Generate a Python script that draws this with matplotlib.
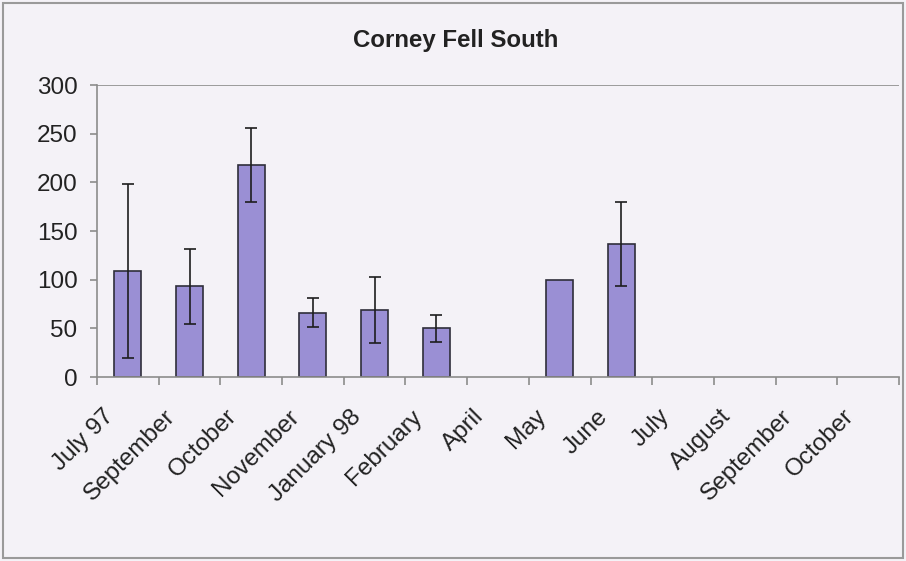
import matplotlib.pyplot as plt
import matplotlib.transforms as mtransforms
from matplotlib.patches import Rectangle
import numpy as np

plt.rcParams['font.family'] = ['Liberation Sans', 'DejaVu Sans']

# survey months and mean counts with error (NaN = no sample)
months = ['July 97', 'September', 'October', 'November', 'January 98', 'February',
          'April', 'May', 'June', 'July', 'August', 'September', 'October']
means = np.array([109, 93, 218, 66, 69, 50, np.nan, 100, 137,
                  np.nan, np.nan, np.nan, np.nan])
errors = np.array([89, 39, 38, 15, 34, 14, np.nan, np.nan, 43,
                   np.nan, np.nan, np.nan, np.nan])

bg = '#f4f2f7'
grey = '#8c8c8c'

fig = plt.figure(figsize=(9.06, 5.61), dpi=100, facecolor=bg)
ax = fig.add_axes([97 / 906, 1 - 377 / 561, 802 / 906, 292 / 561])
ax.set_facecolor('none')

x = np.arange(len(months))
ax.bar(x, means, width=0.44, color='#9a8fd4', edgecolor='#2e2e3a', linewidth=1.2, zorder=2)

has_err = np.isfinite(errors)
ax.errorbar(x[has_err], means[has_err], yerr=errors[has_err], fmt='none',
            ecolor='#1e1e1e', elinewidth=1.2, capsize=4, capthick=1.2, zorder=3)

ax.set_xlim(-0.5, len(months) - 0.5)
ax.set_ylim(0, 300)
ax.axhline(300, color=grey, linewidth=1.2, zorder=1)

for side in ['top', 'right']:
    ax.spines[side].set_visible(False)
for side in ['left', 'bottom']:
    ax.spines[side].set_color(grey)
    ax.spines[side].set_linewidth(1.2)

ax.set_yticks(range(0, 301, 50))
ax.tick_params(axis='y', length=5, width=1.2, color=grey, pad=9, labelsize=17.5, labelcolor='#222222')

ax.set_xticks(x)
ax.set_xticklabels(months, rotation=45, ha='right', rotation_mode='anchor')
ax.tick_params(axis='x', which='major', length=0, pad=20.5, labelsize=17.5, labelcolor='#222222')
ax.set_xticks(np.arange(-0.5, len(months), 1), minor=True)
ax.tick_params(axis='x', which='minor', length=6, width=1.2, color=grey)

offset = mtransforms.ScaledTranslation(-25 / 100, 0, fig.dpi_scale_trans)
for lab in ax.get_xticklabels():
    lab.set_transform(lab.get_transform() + offset)

fig.text(0.503, 1 - 41 / 561, 'Corney Fell South', ha='center', va='center',
         fontweight='bold', fontsize=17.3, color='#222222')

fig.patches.append(Rectangle((0.003, 0.005), 0.994, 0.99, transform=fig.transFigure,
                             fill=False, edgecolor='#9a9a9a', linewidth=1.5))

fig.savefig('out.png', dpi=100, facecolor=fig.get_facecolor())
